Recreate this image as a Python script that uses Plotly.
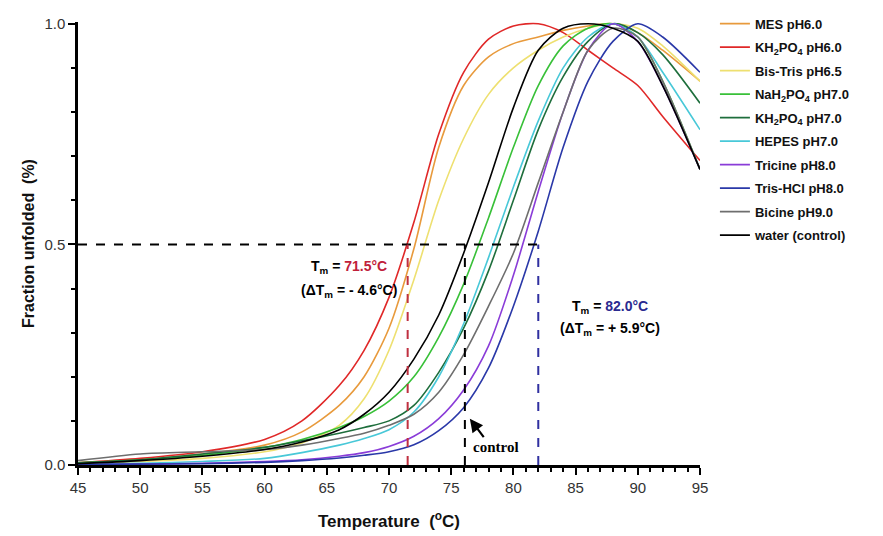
import plotly.graph_objects as go

temps = [45, 50, 55, 60, 63, 66, 68, 70, 72, 74, 76, 78, 80, 82, 84, 86, 88, 90, 92, 95]

names = ["MES pH6.0", "KH<sub>2</sub>PO<sub>4</sub> pH6.0", "Bis-Tris pH6.5",
         "NaH<sub>2</sub>PO<sub>4</sub> pH7.0", "KH<sub>2</sub>PO<sub>4</sub> pH7.0",
         "HEPES pH7.0", "Tricine pH8.0", "Tris-HCl pH8.0", "Bicine pH9.0", "water (control)"]

mes      = [0.005, 0.012, 0.025, 0.045, 0.075, 0.135, 0.2, 0.31, 0.49, 0.72, 0.86, 0.925, 0.955, 0.97, 0.985, 0.995, 1.0, 0.98, 0.94, 0.87]
kh2po4_6 = [0.005, 0.015, 0.03, 0.058, 0.1, 0.18, 0.26, 0.38, 0.55, 0.75, 0.89, 0.965, 0.995, 1.0, 0.98, 0.94, 0.90, 0.86, 0.79, 0.69]
bistris  = [0.003, 0.008, 0.015, 0.03, 0.05, 0.09, 0.15, 0.26, 0.42, 0.6, 0.74, 0.84, 0.90, 0.94, 0.97, 0.99, 1.0, 0.99, 0.95, 0.87]
nah2po4  = [0.005, 0.012, 0.022, 0.04, 0.058, 0.085, 0.11, 0.145, 0.2, 0.29, 0.41, 0.56, 0.72, 0.86, 0.95, 0.99, 1.0, 0.97, 0.87, 0.67]
kh2po4_7 = [0.005, 0.012, 0.025, 0.04, 0.055, 0.072, 0.085, 0.1, 0.135, 0.21, 0.31, 0.44, 0.60, 0.76, 0.88, 0.96, 1.0, 0.98, 0.93, 0.82]
hepes    = [0.002, 0.004, 0.008, 0.015, 0.028, 0.045, 0.06, 0.08, 0.12, 0.2, 0.32, 0.47, 0.63, 0.78, 0.90, 0.97, 1.0, 0.97, 0.89, 0.76]
tricine  = [0.001, 0.002, 0.004, 0.008, 0.012, 0.02, 0.028, 0.042, 0.065, 0.105, 0.17, 0.27, 0.43, 0.62, 0.80, 0.94, 1.0, 0.96, 0.86, 0.67]
trishcl  = [0.001, 0.002, 0.003, 0.006, 0.01, 0.016, 0.022, 0.03, 0.046, 0.078, 0.13, 0.22, 0.36, 0.53, 0.72, 0.87, 0.96, 1.0, 0.97, 0.89]
bicine   = [0.01, 0.025, 0.03, 0.035, 0.045, 0.06, 0.072, 0.09, 0.115, 0.165, 0.25, 0.36, 0.48, 0.64, 0.80, 0.94, 0.99, 0.97, 0.87, 0.67]
water    = [0.003, 0.01, 0.02, 0.035, 0.052, 0.08, 0.115, 0.165, 0.24, 0.34, 0.48, 0.64, 0.81, 0.94, 0.99, 1.0, 0.99, 0.96, 0.86, 0.67]

series = [mes, kh2po4_6, bistris, nah2po4, kh2po4_7, hepes, tricine, trishcl, bicine, water]
colors = ["#E89A3C", "#E02828", "#EEE070", "#38C038", "#1E6E3C", "#48C8D8",
          "#8A3CD8", "#2A38A8", "#6E6E6E", "#000000"]

tm_low, tm_ctrl, tm_high = 71.5, 76.1, 82.0
half = 0.5

fig = go.Figure()
for n, ys, c in zip(names, series, colors):
    fig.add_trace(go.Scatter(x=temps, y=ys, name=n, mode="lines",
                             line=dict(color=c, width=1.6, shape="spline", smoothing=0.8),
                             legendgroup=n))

# dashed guide lines
fig.add_shape(type="line", x0=45, x1=tm_high, y0=half, y1=half,
              line=dict(color="black", width=2, dash="dash"))
for xv, col in [(tm_low, "#C03040"), (tm_ctrl, "#000000"), (tm_high, "#3030A0")]:
    fig.add_shape(type="line", x0=xv, x1=xv, y0=0, y1=half,
                  line=dict(color=col, width=2, dash="dash"))

afont = dict(family="Liberation Sans, Arial", size=14, color="black", weight="bold")
fig.add_annotation(x=66.8, y=0.449, text="T<sub>m</sub> = <span style='color:#C0203A'>71.5°C</span>",
                   showarrow=False, font=afont)
fig.add_annotation(x=66.8, y=0.395, text="(ΔT<sub>m</sub> = - 4.6°C)", showarrow=False, font=afont)
fig.add_annotation(x=87.8, y=0.359, text="T<sub>m</sub> = <span style='color:#2A2A90'>82.0°C</span>",
                   showarrow=False, font=afont)
fig.add_annotation(x=87.8, y=0.309, text="(ΔT<sub>m</sub> = + 5.9°C)", showarrow=False, font=afont)
fig.add_annotation(x=78.6, y=0.04, text="control", showarrow=False,
                   font=dict(family="Liberation Serif, Times New Roman", size=15, color="black", weight="bold"))
fig.add_annotation(x=76.5, y=0.105, text="", showarrow=True, ax=15, ay=20,
                   arrowhead=2, arrowsize=1.2, arrowwidth=2.2, arrowcolor="black")

# page body adds an 8px offset; margins compensate so the plot lands at x 78-700, y 22-465
fig.update_layout(
    width=883, height=536,
    margin=dict(l=70, r=191, t=14, b=79, autoexpand=False),
    plot_bgcolor="white", paper_bgcolor="white",
    font=dict(family="Liberation Sans, Arial", color="#222"),
    showlegend=True,
    legend=dict(x=1.024, y=1.03, xanchor="left", yanchor="top",
                font=dict(size=13, color="#111", weight="bold"),
                tracegroupgap=3.6, itemwidth=30, bgcolor="rgba(0,0,0,0)"),
)
fig.update_xaxes(range=[45, 95], tickvals=[45, 50, 55, 60, 65, 70, 75, 80, 85, 90, 95],
                 showline=True, linecolor="black", linewidth=2.5, ticks="outside",
                 ticklen=7, tickwidth=2, tickcolor="black", showgrid=False, zeroline=False,
                 minor=dict(dtick=1, ticks="outside", ticklen=4, tickwidth=2, tickcolor="black"),
                 tickfont=dict(size=15, color="#333"), automargin=False,
                 title=dict(text="Temperature  (<sup>o</sup>C)", standoff=21,
                            font=dict(size=17, color="#111", weight="bold")))
fig.update_yaxes(range=[0, 1.004], tickvals=[0, 0.5, 1.0], ticktext=["0.0", "0.5", "1.0"],
                 showline=True, linecolor="black", linewidth=2.5, ticks="outside",
                 ticklen=7, tickwidth=2, tickcolor="black", showgrid=False, zeroline=False,
                 minor=dict(dtick=0.1, ticks="outside", ticklen=4, tickwidth=2, tickcolor="black"),
                 tickfont=dict(size=15, color="#333"), automargin=False,
                 title=dict(text="Fraction unfolded  (%)", standoff=6,
                            font=dict(size=16, color="#111", weight="bold")))

fig.write_html("out.html")
